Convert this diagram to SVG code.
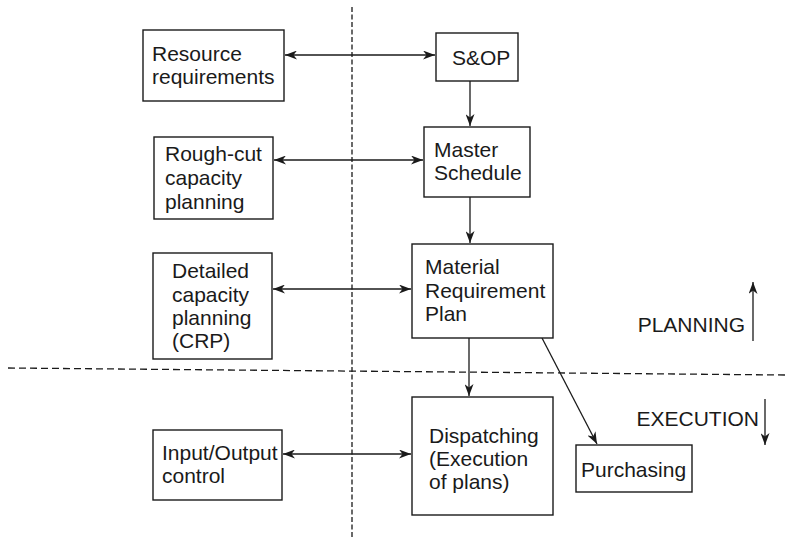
<svg xmlns="http://www.w3.org/2000/svg" width="790" height="537" viewBox="0 0 790 537">
  <style>
    .box { fill: #ffffff; stroke: #1a1a1a; stroke-width: 1.4; }
    .lbl { font-family: "Liberation Sans", Arial, sans-serif; font-size: 21px; fill: #1a1a1a; }
    .link { fill: none; stroke: #1a1a1a; stroke-width: 1.3; }
    .divider { fill: none; stroke: #1a1a1a; stroke-width: 1.3; }
  </style>
  <defs>
    <marker id="arrow" markerUnits="userSpaceOnUse" markerWidth="13" markerHeight="9" refX="12" refY="4.5" orient="auto-start-reverse">
      <path d="M0,0 L12,4.5 L0,9 L3.5,4.5 z" fill="#1a1a1a"/>
    </marker>
  </defs>
  <rect width="790" height="537" fill="#ffffff"/>

  <!-- planning / execution split and the vertical divider -->
  <g id="dividers">
    <line class="divider" x1="352" y1="7" x2="352" y2="537" stroke-dasharray="5 2.5"/>
    <line class="divider" x1="8" y1="368" x2="786" y2="375" stroke-dasharray="7 4"/>
  </g>

  <!-- connectors -->
  <g id="connectors">
    <line class="link" x1="285" y1="55" x2="435" y2="55" marker-start="url(#arrow)" marker-end="url(#arrow)"/>
    <line class="link" x1="274" y1="160" x2="423" y2="160" marker-start="url(#arrow)" marker-end="url(#arrow)"/>
    <line class="link" x1="273" y1="289" x2="411" y2="289" marker-start="url(#arrow)" marker-end="url(#arrow)"/>
    <line class="link" x1="283" y1="454" x2="411" y2="454" marker-start="url(#arrow)" marker-end="url(#arrow)"/>
    <line class="link" x1="470" y1="81" x2="470" y2="126" marker-end="url(#arrow)"/>
    <line class="link" x1="470" y1="197" x2="470" y2="243" marker-end="url(#arrow)"/>
    <line class="link" x1="469" y1="338" x2="469" y2="396" marker-end="url(#arrow)"/>
    <line class="link" x1="542" y1="338" x2="597" y2="444" marker-end="url(#arrow)"/>
    <line class="link" x1="753" y1="341" x2="753" y2="282" marker-end="url(#arrow)"/>
    <line class="link" x1="765" y1="399" x2="765" y2="445" marker-end="url(#arrow)"/>
  </g>

  <g id="resource-requirements">
    <rect class="box" x="143" y="30" width="141" height="71"/>
    <text class="lbl" x="152" y="61">Resource</text>
    <text class="lbl" x="152" y="84">requirements</text>
  </g>

  <g id="sop">
    <rect class="box" x="436" y="33" width="82" height="48"/>
    <text class="lbl" x="452" y="65">S&amp;OP</text>
  </g>

  <g id="rough-cut">
    <rect class="box" x="154" y="137" width="119" height="82"/>
    <text class="lbl" x="165" y="161">Rough-cut</text>
    <text class="lbl" x="165" y="185">capacity</text>
    <text class="lbl" x="165" y="209">planning</text>
  </g>

  <g id="master-schedule">
    <rect class="box" x="424" y="127" width="106" height="70"/>
    <text class="lbl" x="434" y="157">Master</text>
    <text class="lbl" x="434" y="180">Schedule</text>
  </g>

  <g id="detailed-capacity">
    <rect class="box" x="153" y="253" width="119" height="106"/>
    <text class="lbl" x="172" y="278">Detailed</text>
    <text class="lbl" x="172" y="302">capacity</text>
    <text class="lbl" x="172" y="325">planning</text>
    <text class="lbl" x="172" y="348">(CRP)</text>
  </g>

  <g id="mrp">
    <rect class="box" x="412" y="244" width="141" height="94"/>
    <text class="lbl" x="425" y="274">Material</text>
    <text class="lbl" x="425" y="298">Requirement</text>
    <text class="lbl" x="425" y="321">Plan</text>
  </g>

  <g id="input-output">
    <rect class="box" x="153" y="430" width="129" height="70"/>
    <text class="lbl" x="162" y="460">Input/Output</text>
    <text class="lbl" x="162" y="483">control</text>
  </g>

  <g id="dispatching">
    <rect class="box" x="412" y="397" width="141" height="118"/>
    <text class="lbl" x="429" y="443">Dispatching</text>
    <text class="lbl" x="429" y="466">(Execution</text>
    <text class="lbl" x="429" y="489">of plans)</text>
  </g>

  <g id="purchasing">
    <rect class="box" x="576" y="445" width="116" height="47"/>
    <text class="lbl" x="581" y="477">Purchasing</text>
  </g>

  <g id="phase-labels">
    <text class="lbl" x="745" y="332" text-anchor="end">PLANNING</text>
    <text class="lbl" x="759" y="426" text-anchor="end">EXECUTION</text>
  </g>
</svg>
